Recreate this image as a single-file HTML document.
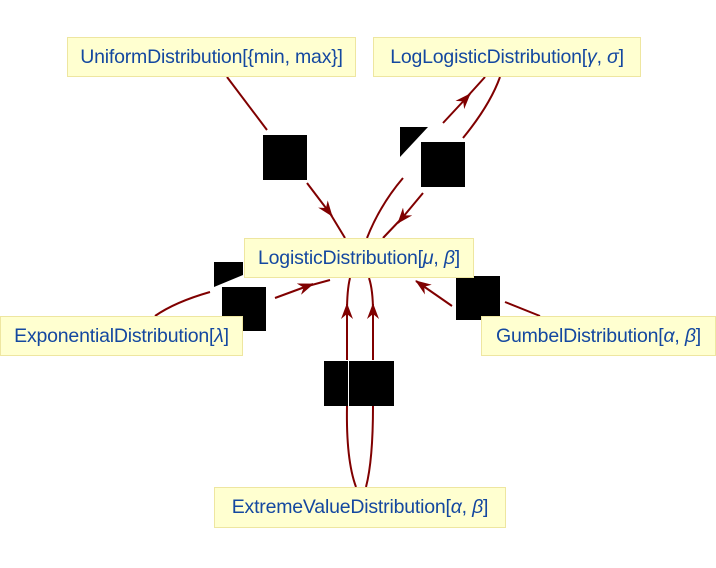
<!DOCTYPE html>
<html><head><meta charset="utf-8"><style>
html,body{margin:0;padding:0;background:#fff;}
.c{position:relative;width:716px;height:568px;overflow:hidden;font-family:"Liberation Sans",sans-serif;}
.n{position:absolute;background:#ffffd0;border:1px solid #eee6a0;color:#1448a0;font-size:19.5px;letter-spacing:-0.2px;display:flex;align-items:center;justify-content:center;box-sizing:border-box;white-space:nowrap;}
.b{position:absolute;background:#000;}
svg{position:absolute;left:0;top:0;}
</style></head><body><div class="c">
<svg width="716" height="568">
<defs><marker id="a" markerWidth="16" markerHeight="12" refX="15" refY="6" orient="auto" markerUnits="userSpaceOnUse"><path d="M0,0 L16,6 L0,12 L5,6z" fill="#800000"/></marker></defs>
<g stroke="#800000" stroke-width="2" fill="none">
<path d="M227,77 L267,130"/>
<path d="M307,183 L332,216" marker-end="url(#a)"/><path d="M328,210 L345,238"/>
<path d="M367,238 Q380,205 403,178"/>
<path d="M443,123 L470,94" marker-end="url(#a)"/><path d="M466,98 L485,77"/>
<path d="M500,77 Q490,105 463,138"/>
<path d="M423,193 L398,223" marker-end="url(#a)"/><path d="M402,218 L383,238"/>
<path d="M155,316 Q175,302 210,292"/>
<path d="M275,298 L313,284" marker-end="url(#a)"/><path d="M308,286 L330,280"/>
<path d="M540,316 L505,302"/>
<path d="M452,306 L416,281" marker-end="url(#a)"/>
<path d="M356,487 Q346,460 347,406"/><path d="M347,360 L347,304" marker-end="url(#a)"/><path d="M347,312 Q347,290 350,278"/>
<path d="M366,487 Q373,460 373,406"/><path d="M373,360 L373,304" marker-end="url(#a)"/><path d="M373,312 Q373,290 369,278"/>
</g>
<polygon points="400,127 428,127 400,157" fill="#000"/>
<polygon points="214,262 243,262 243,275 214,287" fill="#000"/>
</svg>
<div class="b" style="left:263px;top:135px;width:44px;height:45px"></div>
<div class="b" style="left:421px;top:142px;width:44px;height:45px"></div>
<div class="b" style="left:222px;top:287px;width:44px;height:44px"></div>
<div class="b" style="left:456px;top:276px;width:44px;height:44px"></div>
<div class="b" style="left:324px;top:361px;width:24px;height:45px"></div>
<div class="b" style="left:349px;top:361px;width:45px;height:45px"></div>
<div class="n" style="left:67px;top:37px;width:289px;height:40px">UniformDistribution[{min, max}]</div>
<div class="n" style="left:373px;top:37px;width:268px;height:40px">LogLogisticDistribution[<i>γ</i>,&nbsp;<i>σ</i>]</div>
<div class="n" style="left:244px;top:238px;width:230px;height:40px">LogisticDistribution[<i>μ</i>,&nbsp;<i>β</i>]</div>
<div class="n" style="left:0px;top:316px;width:243px;height:40px">ExponentialDistribution[<i>λ</i>]</div>
<div class="n" style="left:481px;top:316px;width:235px;height:40px">GumbelDistribution[<i>α</i>,&nbsp;<i>β</i>]</div>
<div class="n" style="left:214px;top:487px;width:292px;height:41px">ExtremeValueDistribution[<i>α</i>,&nbsp;<i>β</i>]</div>
</div></body></html>
